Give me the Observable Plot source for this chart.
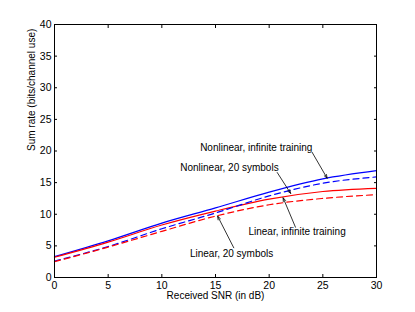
<!DOCTYPE html>
<html>
<head>
<meta charset="utf-8">
<script src="https://cdn.jsdelivr.net/npm/d3@7"></script>
<script src="https://cdn.jsdelivr.net/npm/@observablehq/plot@0.6"></script>
<style>
  html, body { margin: 0; padding: 0; background: #fff; }
  svg { display: block; }
</style>
</head>
<body>
<div id="chart"></div>
<script>
const snr = [0, 5, 10, 15, 20, 25, 30];
const nonlinearInfinite = [3.3, 5.8, 8.6, 11.0, 13.5, 15.6, 16.9];
const linearInfinite    = [3.2, 5.6, 8.3, 10.5, 12.4, 13.6, 14.1];
const nonlinear20       = [2.6, 4.9, 7.7, 10.2, 12.9, 14.9, 15.9];
const linear20          = [2.5, 4.8, 7.3, 9.7, 11.5, 12.5, 13.1];

const xTicks = [0, 5, 10, 15, 20, 25, 30];
const yTicks = [0, 5, 10, 15, 20, 25, 30, 35, 40];

const annLabels = ["Nonlinear, infinite training", "Nonlinear, 20 symbols", "Linear, infinite training", "Linear, 20 symbols"];
const annTextX = [18.8, 16.3, 22.6, 16.5];
const annTextY = [20.5, 17.3, 7.15, 3.75];
const arrowX1 = [24.0, 20.75, 22.45, 16.7];
const arrowY1 = [19.8, 16.6, 7.95, 4.7];
const arrowX2 = [25.4, 22.0, 21.3, 15.2];
const arrowY2 = [15.7, 13.3, 12.6, 9.7];

const series = [
  {name: "Nonlinear, infinite training", values: nonlinearInfinite, color: "#0000ff", dash: null},
  {name: "Linear, infinite training", values: linearInfinite, color: "#ff0000", dash: null},
  {name: "Nonlinear, 20 symbols", values: nonlinear20, color: "#0000ff", dash: "6,4"},
  {name: "Linear, 20 symbols", values: linear20, color: "#ff0000", dash: "6,4"}
];

const lineMarks = series.map(s =>
  Plot.line(snr.map((x, i) => ({x, y: s.values[i]})), {
    x: "x", y: "y", stroke: s.color, strokeWidth: 1.2,
    strokeDasharray: s.dash, curve: "monotone-x"
  })
);

const ann = annLabels.map((t, i) => ({t, x: annTextX[i], y: annTextY[i], x1: arrowX1[i], y1: arrowY1[i], x2: arrowX2[i], y2: arrowY2[i]}));

const font = "'Liberation Sans', Arial, Helvetica, sans-serif";

const chart = Plot.plot({
  width: 415,
  height: 312,
  marginLeft: 54,
  marginRight: 39,
  marginTop: 24,
  marginBottom: 35,
  style: {fontFamily: font, fontSize: "10px", background: "#fff", color: "#000"},
  x: {domain: [0, 30]},
  y: {domain: [0, 40]},
  marks: [
    ...lineMarks,
    Plot.arrow(ann, {x1: "x1", y1: "y1", x2: "x2", y2: "y2", stroke: "#000", strokeWidth: 0.8, headLength: 7, headAngle: 40}),
    Plot.text(ann, {x: "x", y: "y", text: "t", fill: "#000", fontSize: 10, textAnchor: "middle"}),
    Plot.frame({stroke: "#000", strokeWidth: 1}),
    Plot.axisX(xTicks, {anchor: "bottom", tickSize: 0, tickPadding: 4, label: null, fill: "#000", fontSize: 10.5}),
    Plot.axisX(xTicks, {anchor: "bottom", tickSize: -3, tickFormat: () => "", label: null}),
    Plot.axisX(xTicks, {anchor: "top", tickSize: -3, tickFormat: () => "", label: null}),
    Plot.axisY(yTicks, {anchor: "left", tickSize: 0, tickPadding: 3, label: null, fill: "#000", fontSize: 10.5}),
    Plot.axisY(yTicks, {anchor: "left", tickSize: -3, tickFormat: () => "", label: null}),
    Plot.axisY(yTicks, {anchor: "right", tickSize: -3, tickFormat: () => "", label: null}),
    Plot.text(["Received SNR (in dB)"], {frameAnchor: "bottom", dy: 21, text: d => d, fill: "#000", fontSize: 10}),
    Plot.text(["Sum rate (bits/channel use)"], {frameAnchor: "left", dx: -23, rotate: -90, text: d => d, fill: "#000", fontSize: 10})
  ]
});

document.getElementById("chart").appendChild(chart);
</script>
</body>
</html>
